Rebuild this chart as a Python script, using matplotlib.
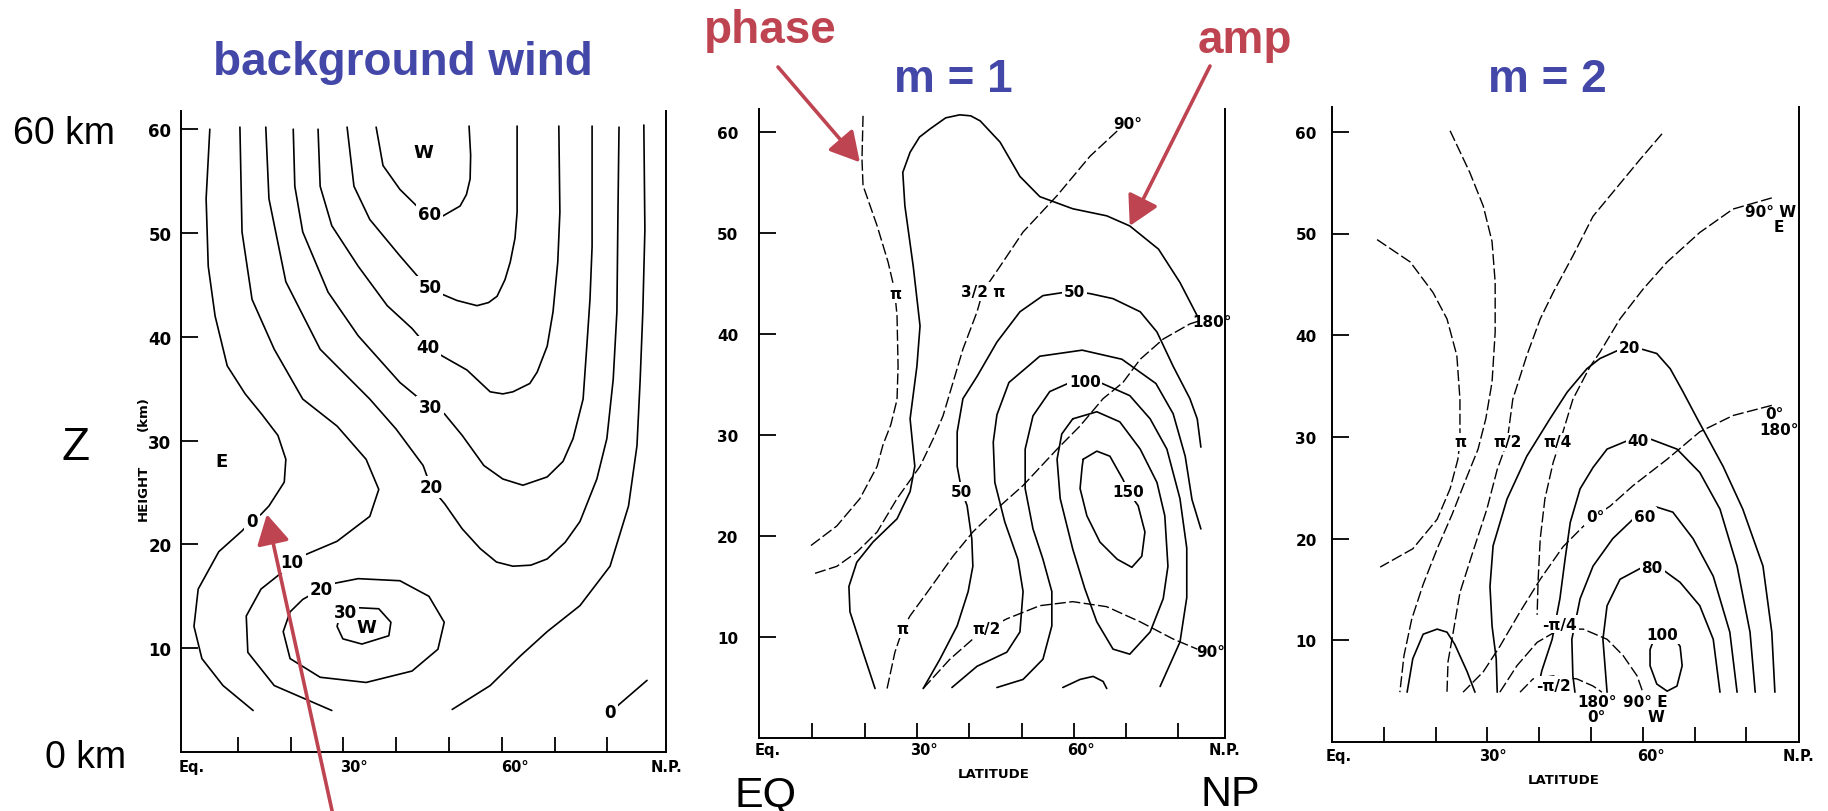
import numpy as np
import matplotlib.pyplot as plt
from matplotlib import transforms

# ---------------------------------------------------------------
# digitised contours, every point is (latitude in deg, height in km)
# ---------------------------------------------------------------

# panel 1 : background zonal wind (m/s)
wind_0 = [(4.7, 60.0), (4.0, 53.3), (4.4, 46.8), (5.7, 42.0), (8.0, 37.2), (11.4, 34.5),
          (14.6, 32.5), (17.6, 30.5), (19.1, 28.2), (18.8, 26.0), (15.9, 23.7), (14.4, 22.9),
          (12.7, 22.3), (10.8, 21.3), (6.4, 19.3), (2.5, 15.7), (1.7, 12.1), (3.2, 9.0),
          (7.2, 6.4), (12.9, 4.0)]
wind_10_low = [(10.4, 60.2), (10.8, 50.1), (12.7, 43.6), (16.9, 38.8), (22.3, 34.0), (28.8, 31.4),
               (34.3, 28.2), (36.7, 25.3), (35.0, 22.7), (28.8, 20.3), (22.3, 18.9), (20.3, 18.3),
               (19.1, 17.6), (14.4, 15.7), (11.6, 13.1), (11.9, 9.6), (16.9, 6.4), (27.8, 4.0)]
wind_10_high = [(86.9, 60.4), (87.1, 50.3), (86.7, 42.3), (86.2, 35.8), (85.6, 29.5), (84.0, 23.7),
                (80.5, 17.9), (74.8, 14.1), (68.6, 11.6), (63.4, 9.2), (57.8, 6.4), (50.6, 4.1)]
wind_20 = [(15.3, 60.2), (15.9, 53.3), (19.1, 45.3), (25.6, 38.8), (35.0, 34.0), (40.0, 31.1),
           (45.1, 27.6), (46.6, 25.5), (49.2, 23.9), (52.5, 21.5), (55.9, 19.6), (59.0, 18.3),
           (62.1, 17.9), (65.5, 18.0), (68.6, 18.6), (72.0, 20.2), (74.8, 22.2), (78.0, 26.3),
           (79.9, 30.2), (81.1, 35.9), (81.8, 42.4), (82.0, 52.0), (82.2, 60.2)]
wind_30 = [(20.5, 60.0), (20.8, 54.5), (22.3, 50.1), (27.1, 44.3), (32.8, 40.1), (40.7, 35.6),
           (46.4, 33.2), (49.1, 32.6), (52.5, 30.5), (56.6, 27.6), (60.2, 26.3), (64.0, 25.7),
           (68.6, 26.5), (71.6, 28.0), (73.5, 30.2), (75.4, 34.0), (76.1, 39.1), (76.7, 43.6),
           (77.1, 48.7), (77.1, 60.3)]
wind_40 = [(25.2, 60.0), (25.6, 54.5), (27.8, 50.7), (32.8, 46.8), (38.3, 43.0), (43.0, 40.8),
           (46.0, 39.0), (48.9, 38.1), (53.4, 36.8), (57.8, 34.7), (60.2, 34.5), (62.1, 34.7),
           (65.3, 35.5), (66.7, 36.6), (68.6, 39.1), (69.7, 42.4), (70.6, 47.2), (71.0, 52.0),
           (70.8, 60.3)]
wind_50 = [(30.7, 60.2), (32.0, 54.5), (35.0, 51.3), (40.7, 47.8), (44.1, 45.8), (46.4, 44.8),
           (48.7, 44.1), (51.5, 43.5), (55.3, 43.0), (57.5, 43.3), (59.1, 43.9), (60.6, 45.5),
           (61.6, 47.2), (62.5, 49.5), (62.9, 52.0), (62.9, 60.3)]
wind_60 = [(36.2, 60.2), (37.5, 56.5), (40.7, 54.2), (44.1, 52.5), (46.4, 51.8), (48.7, 51.6),
           (52.1, 52.6), (53.3, 53.7), (54.0, 55.2), (54.1, 57.5), (53.8, 60.3)]
wind_20_jet = [(27.8, 16.2), (32.8, 16.7), (40.7, 16.5), (46.2, 15.0), (49.1, 12.5), (47.9, 9.9),
               (43.0, 7.8), (34.3, 6.7), (25.6, 7.2), (19.9, 9.0), (18.6, 11.6), (19.9, 13.5),
               (22.3, 14.7), (25.8, 15.7), (27.8, 16.2)]
wind_30_jet = [(32.8, 13.9), (36.7, 13.8), (39.0, 12.5), (38.6, 11.2), (33.5, 10.4), (29.9, 10.9),
               (28.8, 12.1), (29.2, 12.9), (30.3, 13.5), (32.8, 13.9)]
wind_0_polar = [(81.8, 4.4), (87.5, 6.9)]
wind_labels = [("60", 46.4, 51.8), ("50", 46.4, 44.8), ("40", 46.0, 39.0), ("30", 46.4, 33.2),
               ("20", 46.6, 25.5), ("10", 20.3, 18.3), ("0", 12.7, 22.3), ("20", 25.8, 15.7),
               ("30", 30.3, 13.5), ("0", 80.5, 3.9)]
wind_letters = [("W", 45.1, 57.8), ("E", 7.0, 28.0), ("W", 34.3, 12.0)]

# panel 2 : m = 1 amplitude (solid) and phase (dashed)
m1_amp_outer = [(22.0, 4.9), (19.7, 8.5), (17.2, 12.5), (17.0, 15.0), (18.5, 17.4), (21.6, 19.4),
                (26.2, 21.7), (28.7, 24.4), (29.6, 26.9), (28.7, 31.6), (30.0, 36.8), (30.6, 40.8),
                (29.3, 46.7), (27.7, 52.7), (27.3, 56.0), (28.7, 58.0), (30.5, 59.5), (32.5, 60.3),
                (35.5, 61.4), (38.2, 61.7), (40.3, 61.6), (42.1, 61.1), (45.9, 59.0), (49.7, 55.6),
                (53.5, 53.6), (59.8, 52.4), (66.3, 51.7), (70.7, 50.7), (76.2, 48.4), (80.3, 45.1),
                (83.6, 41.8)]
m1_amp_50 = [(31.2, 4.9), (34.4, 7.8), (37.7, 11.1), (39.8, 14.5), (40.7, 17.0), (40.5, 19.7),
             (39.6, 23.0), (38.6, 24.4), (37.7, 26.9), (37.7, 30.3), (38.8, 33.6), (41.5, 35.8),
             (45.3, 39.2), (49.7, 42.2), (54.1, 43.8), (57.9, 44.1), (60.2, 44.2), (63.1, 44.0),
             (67.5, 43.5), (72.7, 42.2), (75.9, 40.2), (79.0, 36.8), (82.2, 33.6), (83.6, 31.6),
             (84.3, 28.8)]
m1_amp_75 = [(36.7, 5.0), (41.5, 7.1), (47.2, 8.5), (49.7, 10.5), (50.3, 14.5), (49.3, 17.7),
             (46.8, 21.4), (44.9, 25.3), (44.6, 29.3), (45.3, 32.0), (47.6, 35.2), (53.5, 37.8),
             (61.6, 38.4), (69.2, 37.5), (75.7, 35.1), (79.0, 32.1), (81.3, 27.9), (82.6, 23.6),
             (84.3, 20.7)]
m1_amp_100 = [(45.3, 5.0), (50.3, 5.8), (54.1, 7.8), (55.8, 11.1), (55.8, 14.5), (54.1, 17.7),
              (52.2, 20.7), (50.7, 24.7), (50.7, 28.6), (52.2, 31.9), (55.4, 34.3), (59.3, 35.2),
              (62.1, 35.3), (65.0, 35.2), (70.7, 33.9), (74.6, 31.6), (77.8, 28.6), (80.3, 23.7),
              (81.6, 18.8), (81.6, 13.9), (80.3, 9.5), (76.5, 5.1)]
m1_amp_125 = [(59.8, 31.6), (64.4, 32.3), (68.8, 31.3), (72.7, 28.6), (75.9, 25.3), (77.4, 22.0),
              (78.0, 17.0), (77.1, 13.8), (74.6, 10.5), (70.7, 8.3), (67.5, 8.8), (64.4, 11.5),
              (62.1, 14.8), (59.8, 18.7), (57.4, 23.7), (56.8, 27.6), (57.7, 30.1), (59.8, 31.6)]
m1_amp_150 = [(61.8, 27.6), (64.4, 28.4), (66.9, 27.9), (69.4, 25.6), (70.4, 24.4), (72.3, 23.0),
              (73.6, 20.4), (73.0, 18.0), (71.1, 16.9), (68.3, 17.7), (65.0, 19.4), (62.5, 22.0),
              (61.2, 24.7), (61.6, 26.9), (61.8, 27.6)]
m1_amp_low = [(57.9, 5.0), (61.2, 5.8), (63.7, 6.1), (65.6, 5.6), (66.3, 4.9)]
m1_phase_pi_top = [(19.7, 61.6), (19.5, 57.3), (19.7, 54.7), (22.4, 50.7), (24.5, 47.1), (25.4, 45.1),
                   (25.8, 44.0), (26.2, 41.8), (26.4, 36.8), (26.2, 33.5), (25.0, 31.0), (23.5, 29.0),
                   (22.4, 26.9), (19.1, 23.7), (14.7, 21.0), (9.6, 19.0)]
m1_phase_3pi2 = [(68.3, 60.1), (63.1, 57.6), (56.8, 53.7), (50.3, 50.1), (45.9, 46.7), (42.6, 44.2),
                 (41.5, 42.2), (38.8, 38.5), (36.9, 35.2), (35.0, 31.9), (33.1, 29.6), (30.6, 26.9),
                 (26.2, 23.7), (22.4, 20.4), (18.5, 18.4), (14.7, 17.0), (9.9, 16.2)]
m1_phase_pi_low = [(24.3, 4.9), (25.8, 8.5), (27.3, 10.8), (28.7, 12.1), (32.5, 14.8), (36.9, 18.0),
                   (40.7, 20.4), (45.3, 22.7), (50.3, 25.0), (56.8, 28.6), (61.2, 30.9), (65.6, 33.6),
                   (69.4, 35.2), (72.7, 37.5), (77.1, 39.5), (82.2, 41.0), (84.0, 41.3)]
m1_phase_pi2 = [(31.2, 4.9), (36.3, 7.8), (40.7, 9.8), (43.4, 10.8), (47.2, 11.8), (53.5, 13.1),
                (59.8, 13.5), (66.3, 13.0), (72.7, 11.5), (79.0, 9.8), (83.6, 8.8)]
m1_labels = [("50", 60.2, 44.2), ("100", 62.1, 35.3), ("150", 70.4, 24.4), ("50", 38.6, 24.4),
             ("π", 25.8, 44.0), ("3/2 π", 42.6, 44.2), ("π", 27.3, 10.8), ("π/2", 43.4, 10.8)]
m1_edge_labels = [("90°", 70.4, 60.8), ("180°", 86.4, 41.2), ("90°", 86.2, 8.6)]

# panel 3 : m = 2 amplitude (solid) and phase (dashed)
m2_amp_20 = [(31.9, 4.9), (31.7, 8.2), (30.9, 11.4), (30.5, 15.3), (31.1, 19.3), (33.8, 23.9),
             (37.6, 28.1), (42.1, 31.8), (45.4, 34.4), (49.2, 36.7), (51.7, 37.7), (55.6, 38.6),
             (57.5, 38.8), (60.0, 38.6), (62.7, 38.2), (65.3, 36.7), (67.8, 34.4), (70.5, 31.8),
             (75.5, 27.1), (79.3, 22.9), (83.2, 17.3), (84.9, 10.8), (85.5, 4.9)]
m2_amp_40 = [(39.6, 4.9), (40.5, 7.0), (42.5, 10.1), (44.0, 14.1), (45.0, 18.0), (46.0, 21.6),
             (47.9, 24.9), (50.4, 27.0), (53.1, 28.8), (56.9, 29.6), (59.1, 29.6), (61.4, 29.8),
             (66.6, 28.8), (71.0, 26.5), (74.9, 22.9), (78.2, 17.3), (80.7, 10.8), (81.7, 4.9)]
m2_amp_60 = [(46.9, 4.9), (46.5, 6.5), (46.3, 10.1), (47.9, 14.1), (50.4, 17.3), (54.2, 20.0),
             (58.1, 21.9), (60.4, 22.2), (62.7, 23.1), (65.8, 22.6), (69.7, 20.0), (73.6, 16.3),
             (76.8, 10.8), (78.2, 4.9)]
m2_amp_80 = [(53.1, 4.9), (52.7, 7.5), (52.3, 10.1), (53.1, 13.4), (55.6, 16.0), (60.0, 17.2),
             (61.8, 17.2), (63.7, 17.0), (67.2, 15.7), (71.0, 13.4), (73.6, 10.1), (74.9, 4.9)]
m2_amp_100 = [(65.3, 10.8), (67.2, 9.4), (67.6, 7.5), (66.6, 5.5), (64.7, 5.0), (62.7, 5.7),
              (61.4, 7.5), (61.4, 9.1), (62.4, 10.4), (63.7, 10.6), (65.3, 10.8)]
m2_amp_low = [(14.5, 4.9), (15.6, 8.2), (17.6, 10.6), (20.3, 11.1), (22.2, 10.8), (23.7, 9.6),
              (26.1, 6.9), (27.6, 4.9)]
m2_phase_pi = [(8.7, 49.4), (15.1, 47.2), (19.5, 44.2), (22.2, 41.6), (24.1, 38.0), (24.7, 33.7),
               (24.7, 29.5), (24.3, 27.8), (22.8, 24.9), (20.3, 21.9), (15.6, 19.0), (9.3, 17.2)]
m2_phase_3pi4 = [(22.8, 60.1), (26.6, 56.0), (29.2, 52.7), (30.9, 49.2), (31.5, 45.2), (31.5, 40.3),
                 (30.9, 35.4), (29.7, 31.8), (28.2, 28.8), (25.9, 25.9), (23.2, 22.4), (20.3, 19.0),
                 (17.6, 15.5), (15.4, 12.1), (13.9, 8.5), (13.1, 4.9)]
m2_phase_pi2 = [(63.7, 59.8), (59.5, 57.3), (55.6, 54.9), (50.4, 51.7), (46.5, 47.8), (42.7, 44.2),
                (40.2, 41.6), (37.6, 38.0), (34.9, 33.7), (33.8, 29.5), (31.9, 26.8), (29.9, 22.9),
                (27.2, 18.7), (24.7, 14.7), (23.4, 10.8), (22.4, 7.9), (22.2, 4.9)]
m2_phase_pi4 = [(84.9, 53.5), (77.4, 52.4), (71.0, 50.1), (64.7, 47.2), (60.0, 44.5), (55.6, 41.6),
                (51.7, 38.3), (49.8, 36.9), (46.5, 33.7), (44.0, 29.5), (42.7, 27.5), (41.1, 23.9),
                (40.2, 20.0), (39.8, 16.0), (39.6, 12.5)]
m2_phase_0 = [(84.9, 33.1), (77.4, 32.1), (71.0, 30.5), (64.7, 27.8), (58.1, 25.2), (53.7, 23.2),
              (50.8, 22.2), (48.5, 21.2), (44.6, 19.2), (40.2, 16.0), (36.3, 12.8), (32.4, 9.4),
              (29.2, 6.9), (25.3, 4.9)]
m2_phase_mpi4 = [(32.4, 4.9), (35.7, 7.5), (39.6, 9.8), (44.0, 11.1), (48.5, 11.1), (53.1, 10.1),
                 (56.2, 8.5), (58.9, 6.5), (60.0, 4.9)]
m2_phase_mpi2 = [(36.3, 4.9), (38.8, 6.2), (42.7, 6.5), (47.3, 6.2), (50.4, 5.5), (52.1, 4.9)]
m2_labels = [("20", 57.5, 38.8), ("40", 59.1, 29.6), ("60", 60.4, 22.2), ("80", 61.8, 17.2),
             ("100", 63.7, 10.6), ("π", 24.7, 29.5), ("π/2", 33.8, 29.5), ("π/4", 43.6, 29.5),
             ("0°", 50.8, 22.2), ("-π/4", 44.0, 11.6), ("-π/2", 42.7, 5.6)]
m2_edge_labels = [("90° W", 84.7, 52.2), ("E", 86.3, 50.7), ("0°", 85.5, 32.3), ("180°", 86.3, 30.7),
                  ("180°", 51.2, 4.0), ("0°", 51.0, 2.5), ("90° E", 60.4, 4.0), ("W", 62.5, 2.5)]

heights = [10, 20, 30, 40, 50, 60]
lat_ticks = [10, 20, 30, 40, 50, 60, 70, 80]
lat_names = ["Eq.", "30°", "60°"]

RED = '#BF4451'
BLUE = '#4347A8'
NARROW = ['Liberation Sans Narrow', 'DejaVu Sans']
SANS = ['Liberation Sans', 'DejaVu Sans']

W, H = 1828, 812
fig = plt.figure(figsize=(W / 100, H / 100), dpi=100)
fig.patch.set_facecolor('white')


def make_panel(left, right, bottom, top, eq_px, px_deg, px_km, pad, lab_size):
    ax = fig.add_axes([left / W, 1 - bottom / H, (right - left) / W, (bottom - top) / H])
    ax.set_xlim((left - eq_px) / px_deg, (right - eq_px) / px_deg)
    ax.set_ylim(0, (bottom - top) / px_km)
    ax.set_facecolor('none')
    ax.spines['top'].set_visible(False)
    for s in ('left', 'right', 'bottom'):
        ax.spines[s].set_linewidth(1.4)
    ax.set_xticks(lat_ticks)
    ax.set_yticks(heights)
    ax.set_yticklabels([str(h) for h in heights], fontfamily=NARROW, fontweight='bold',
                       fontsize=lab_size)
    ax.tick_params(axis='x', direction='in', length=11, width=1.3, labelbottom=False)
    ax.tick_params(axis='y', direction='in', length=12, width=1.3, pad=pad)
    return ax


def lines(ax, curves, dashed=False):
    for c in curves:
        c = np.array(c)
        if dashed:
            ax.plot(c[:, 0], c[:, 1], color='black', lw=1.0, ls=(0, (8, 2.5)), zorder=2,
                    dash_joinstyle='round')
        else:
            ax.plot(c[:, 0], c[:, 1], color='black', lw=1.2, zorder=2,
                    solid_joinstyle='round', solid_capstyle='round')


def labels(ax, items, size, box=True):
    for txt, x, y in items:
        kw = dict(boxstyle='square,pad=0.12', fc='white', ec='none') if box else None
        ax.text(x, y, txt, ha='center', va='center', fontsize=size, fontfamily=NARROW,
                fontweight='bold', bbox=kw, zorder=3)


def lat_axis(ax, positions, drop, word=False):
    tr = transforms.offset_copy(ax.get_xaxis_transform(), fig=fig, y=-drop, units='dots')
    for name, x in zip(lat_names, positions):
        ax.text(x, 0, name, transform=tr, ha='center', va='center', fontsize=10.5,
                fontfamily=NARROW, fontweight='bold')
    tr2 = transforms.offset_copy(ax.transAxes, fig=fig, y=-drop, units='dots')
    ax.text(1.0, 0, 'N.P.', transform=tr2, ha='center', va='center', fontsize=10.5,
            fontfamily=NARROW, fontweight='bold')
    if word:
        tr3 = transforms.offset_copy(ax.get_xaxis_transform(), fig=fig, y=-drop - 24, units='dots')
        ax.text(44.7, 0, 'LATITUDE', transform=tr3, ha='center', va='center', fontsize=9.5,
                fontfamily=NARROW, fontweight='bold')


def red_arrow(ax, tip, tail_px):
    ax.annotate('', xy=tip, xycoords='data', xytext=tail_px, textcoords='figure pixels',
                arrowprops=dict(arrowstyle='-|>,head_length=0.9,head_width=0.5', color=RED,
                                lw=2.6, mutation_scale=20, shrinkA=0, shrinkB=0),
                annotation_clip=False, zorder=5)


# --- panel 1: background wind
ax1 = make_panel(181, 666, 753, 112, 185, 5.28, 10.38, 7, 12)
lines(ax1, [wind_0, wind_10_low, wind_10_high, wind_20, wind_30, wind_40, wind_50, wind_60,
            wind_20_jet, wind_30_jet, wind_0_polar])
labels(ax1, wind_labels, 12)
labels(ax1, wind_letters, 13, box=False)
lat_axis(ax1, [1.3, 32.0, 62.5], 15)
ax1.text(-0.078, 0.406, 'HEIGHT', transform=ax1.transAxes, rotation=90, ha='center', va='center',
         fontsize=9.5, fontfamily=NARROW, fontweight='bold')
ax1.text(-0.078, 0.53, '(km)', transform=ax1.transAxes, rotation=90, ha='center', va='center',
         fontsize=9.5, fontfamily=NARROW, fontweight='bold')

# --- panel 2: m = 1
ax2 = make_panel(759, 1225, 739, 110, 760, 5.23, 10.1, 15, 11)
lines(ax2, [m1_amp_outer, m1_amp_50, m1_amp_75, m1_amp_100, m1_amp_125, m1_amp_150, m1_amp_low])
lines(ax2, [m1_phase_pi_top, m1_phase_3pi2, m1_phase_pi_low, m1_phase_pi2], dashed=True)
labels(ax2, m1_labels, 11)
labels(ax2, m1_edge_labels, 11, box=False)
lat_axis(ax2, [1.5, 31.4, 61.4], 12, word=True)

# --- panel 3: m = 2
ax3 = make_panel(1332, 1799, 743, 108, 1332, 5.18, 10.17, 11, 11)
lines(ax3, [m2_amp_20, m2_amp_40, m2_amp_60, m2_amp_80, m2_amp_100, m2_amp_low])
lines(ax3, [m2_phase_pi, m2_phase_3pi4, m2_phase_pi2, m2_phase_pi4, m2_phase_0,
            m2_phase_mpi4, m2_phase_mpi2], dashed=True)
labels(ax3, m2_labels, 11)
labels(ax3, m2_edge_labels, 11, box=False)
lat_axis(ax3, [1.2, 31.1, 61.6], 14, word=True)

# --- red pointers
red_arrow(ax2, (19.1, 57.0), (778, H - 68))
red_arrow(ax2, (70.7, 50.7), (1210, H - 67))
red_arrow(ax1, (15.5, 22.9), (333, -4))


# --- headline texts
def ftext(x, y, s, **kw):
    fig.text(x / W, 1 - y / H, s, fontfamily=SANS, va='baseline', **kw)


ftext(403, 75, 'background wind', ha='center', fontsize=33, fontweight='bold', color=BLUE)
ftext(953, 92, 'm = 1', ha='center', fontsize=33, fontweight='bold', color=BLUE)
ftext(1547, 92, 'm = 2', ha='center', fontsize=33, fontweight='bold', color=BLUE)
ftext(770, 43, 'phase', ha='center', fontsize=33, fontweight='bold', color=RED)
ftext(1198, 53, 'amp', ha='left', fontsize=33, fontweight='bold', color=RED)
ftext(13, 144, '60 km', ha='left', fontsize=27)
ftext(61, 460, 'Z', ha='left', fontsize=33)
ftext(45, 768, '0 km', ha='left', fontsize=27)
ftext(734, 806, 'EQ', ha='left', fontsize=31)
ftext(1200, 806, 'NP', ha='left', fontsize=31)

fig.savefig('out.png', dpi=100, facecolor='white')
